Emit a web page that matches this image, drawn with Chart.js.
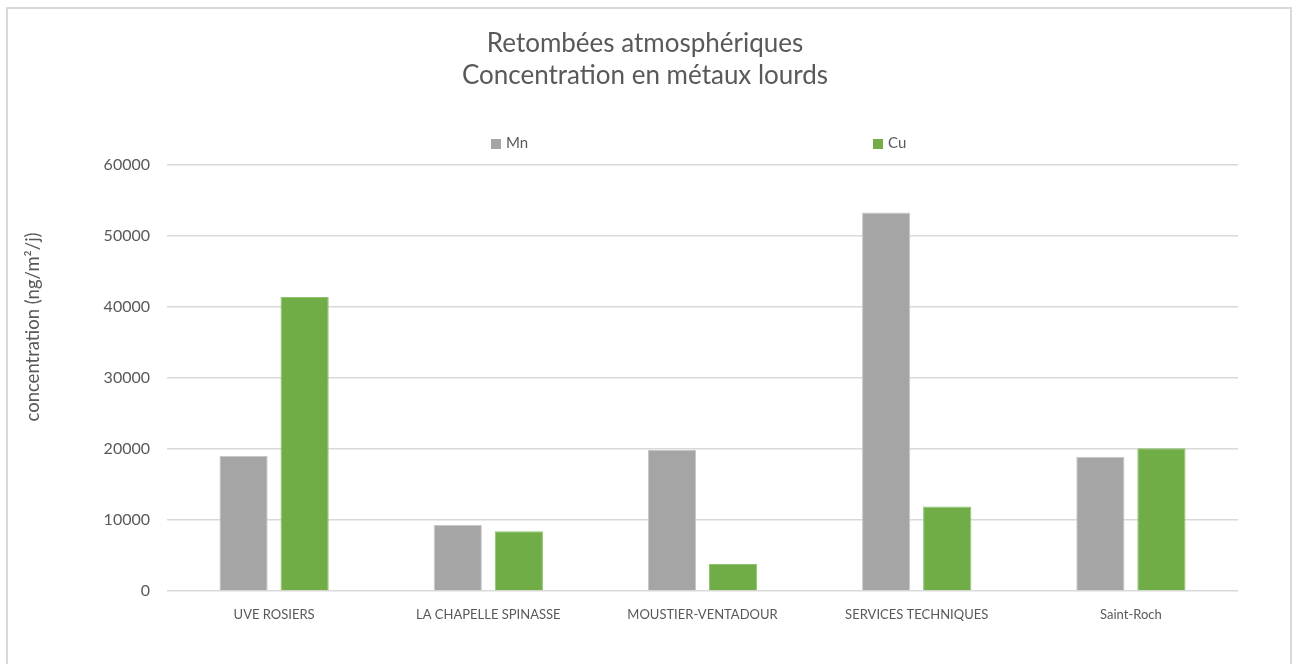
<!DOCTYPE html>
<html>
<head>
<meta charset="utf-8">
<script src="https://cdn.jsdelivr.net/npm/chart.js@4/dist/chart.umd.min.js"></script>
<style>
	html, body { margin: 0; padding: 0; background: #fff; }
	#wrap { position: relative; width: 1293px; height: 664px; overflow: hidden; }
	#frame { position: absolute; left: 6px; top: 7px; width: 1286px; height: 700px; border: 2px solid #d9d9d9; box-sizing: border-box; }
	#legend { position: absolute; top: 133px; left: 491px; font: 15px Lato, sans-serif; color: #595959; }
	#legend span.item { position: absolute; white-space: nowrap; }
	#legend i { display: inline-block; width: 10px; height: 10px; margin-right: 5px; vertical-align: -1px; }
</style>
</head>
<body>
<div id="wrap">
	<div id="frame"></div>
	<canvas id="chart" width="1293" height="664"></canvas>
	<div id="legend"></div>
</div>
<script>
const categories = ["UVE ROSIERS", "LA CHAPELLE SPINASSE", "MOUSTIER-VENTADOUR", "SERVICES TECHNIQUES", "Saint-Roch"];
const mnValues = [19000, 9300, 19900, 53300, 18900];
const cuValues = [41400, 8400, 3800, 11900, 20100];
const seriesNames = ["Mn", "Cu"];
const seriesColors = ["#a5a5a5", "#70ad47"];
const titleLines = ["Retombées atmosphériques", "Concentration en métaux lourds"];
const yTitle = "concentration (ng/m²/j)";

const textColor = "#595959";
const fontFamily = "Lato, sans-serif";

// legend spread out like the original (Excel style)
const legendOffsets = [0, 382];
const legend = document.getElementById("legend");
seriesNames.forEach((name, i) => {
	let item = document.createElement("span");
	item.className = "item";
	item.style.left = legendOffsets[i] + "px";
	item.innerHTML = `<i style="background:${seriesColors[i]}"></i>${name}`;
	legend.appendChild(item);
});

// y axis title, placed where the original has it
const yTitlePlugin = {
	id: "yTitle",
	afterDraw(chart) {
		const ctx = chart.ctx;
		ctx.save();
		ctx.translate(33, 327);
		ctx.rotate(-Math.PI / 2);
		ctx.fillStyle = textColor;
		ctx.font = `18.5px ${fontFamily}`;
		ctx.textAlign = "center";
		ctx.textBaseline = "middle";
		ctx.fillText(yTitle, 0, 0);
		ctx.restore();
	}
};

new Chart("chart", {
	type: "bar",
	data: {
		labels: categories,
		datasets: [
			{ label: seriesNames[0], data: mnValues, backgroundColor: seriesColors[0], borderColor: "#c8c8c8", borderWidth: 1 },
			{ label: seriesNames[1], data: cuValues, backgroundColor: seriesColors[1], borderColor: "#8fc26c", borderWidth: 1 },
		],
	},
	options: {
		responsive: false,
		animation: false,
		categoryPercentage: 0.57,
		barPercentage: 0.79,
		layout: { padding: { left: 52, right: 55, top: 0, bottom: 33 } },
		plugins: {
			legend: { display: false },
			tooltip: { enabled: false },
			title: {
				display: true,
				text: titleLines,
				color: textColor,
				font: { family: fontFamily, size: 26, weight: "normal", lineHeight: 1.25 },
				padding: { top: 27, bottom: 73 },
			},
		},
		scales: {
			x: {
				grid: { display: false, drawTicks: false },
				border: { display: false },
				ticks: { color: textColor, font: { family: fontFamily, size: 13 }, padding: 16, maxRotation: 0 },
				afterFit: (s) => { s.height = 40; },
			},
			y: {
				min: 0,
				max: 60000,
				grid: { color: "#d9d9d9", lineWidth: 1.5, drawTicks: false },
				border: { display: false },
				ticks: {
					stepSize: 10000,
					color: textColor,
					font: { family: fontFamily, size: 16 },
					padding: 17,
					callback: (v) => String(v),
				},
				afterFit: (s) => { s.width = 115; },
			},
		},
	},
	plugins: [yTitlePlugin],
});
</script>
</body>
</html>
